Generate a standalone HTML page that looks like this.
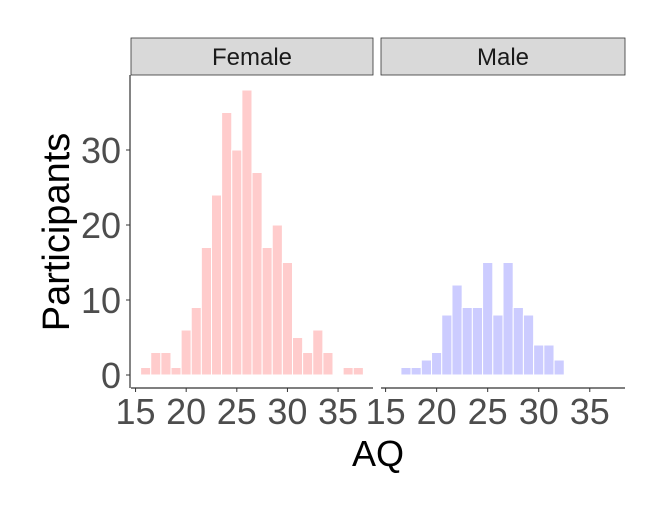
<!DOCTYPE html>
<html><head><meta charset="utf-8"><style>
html,body{margin:0;padding:0;background:#fff}
svg{display:block;font-family:"Liberation Sans",sans-serif}
</style></head><body>
<svg id="chart" width="663" height="513" viewBox="0 0 663 513">
<g id="g"></g>
</svg>
<script>
const xValues = [16,17,18,19,20,21,22,23,24,25,26,27,28,29,30,31,32,33,34,35,36,37];
const femaleCounts = [1,3,3,1,6,9,17,24,35,30,38,27,17,20,15,5,3,6,3,0,1,1];
const maleX = [17,18,19,20,21,22,23,24,25,26,27,28,29,30,31,32];
const maleCounts = [1,1,2,3,8,12,9,9,15,8,15,9,8,4,4,2];
const xTicks = [15,20,25,30,35];
const yTicks = [0,10,20,30];

const NS='http://www.w3.org/2000/svg';
const g=document.getElementById('g');
function el(t,a,p){const e=document.createElementNS(NS,t);for(const k in a)e.setAttribute(k,a[k]);(p||g).appendChild(e);return e;}
const panelTop=75,panelBottom=388;
const yS=v=>375-v*7.5;
const panels=[
 {name:'female',label:'Female',x0:131,x1:373,xs:xValues,cs:femaleCounts,fill:'#ffcccc'},
 {name:'male',label:'Male',x0:381,x1:625,xs:maleX,cs:maleCounts,fill:'#ccccff'}];
const dmin=14.55,dmax=38.45;
panels.forEach(p=>{
  const x=v=>p.x0+(v-dmin)/(dmax-dmin)*(p.x1-p.x0);
  const pg=el('g',{});
  
  
  const strip=el('rect',{x:p.x0,y:38,width:p.x1-p.x0,height:37,fill:'#d9d9d9',stroke:'#333','stroke-width':0.8},pg);
  
  
  const st=el('text',{x:(p.x0+p.x1)/2,y:65,'text-anchor':'middle','font-size':24,fill:'#1a1a1a'},pg);
  st.textContent=p.label;
  
  
  p.xs.forEach((v,i)=>{
    const c=p.cs[i]; if(c<=0) return;
    const r=el('rect',{x:x(v-0.5),y:yS(c),width:x(v+0.5)-x(v-0.5),height:yS(0)-yS(c),fill:p.fill,stroke:'#fff','stroke-width':1},pg);
    
    
  });
  const ax=el('line',{x1:p.x0,x2:p.x1,y1:panelBottom,y2:panelBottom,stroke:'#333','stroke-width':1.2},pg);
  
  
  xTicks.forEach(t=>{
    el('line',{x1:x(t),x2:x(t),y1:panelBottom,y2:panelBottom+4,stroke:'#333','stroke-width':1},pg);
    const tl=el('text',{x:x(t),y:424,'text-anchor':'middle','font-size':36,fill:'#4d4d4d'},pg);
    tl.textContent=t;
    
    
  });
});
const ya=el('line',{x1:130,x2:130,y1:panelTop,y2:panelBottom,stroke:'#333','stroke-width':1.2});


yTicks.forEach(t=>{
  el('line',{x1:126,x2:130,y1:yS(t),y2:yS(t),stroke:'#333','stroke-width':1});
  const tl=el('text',{x:121,y:yS(t)+13,'text-anchor':'end','font-size':36,fill:'#4d4d4d'});
  tl.textContent=t;
  
  
});
const xt=el('text',{x:378,y:466,'text-anchor':'middle','font-size':36,fill:'#000'});
xt.textContent='AQ';


const yt=el('text',{x:0,y:0,'text-anchor':'middle','font-size':38,fill:'#000',transform:'translate(69,232) rotate(-90)'});
yt.textContent='Participants';


</script>
</body></html>
